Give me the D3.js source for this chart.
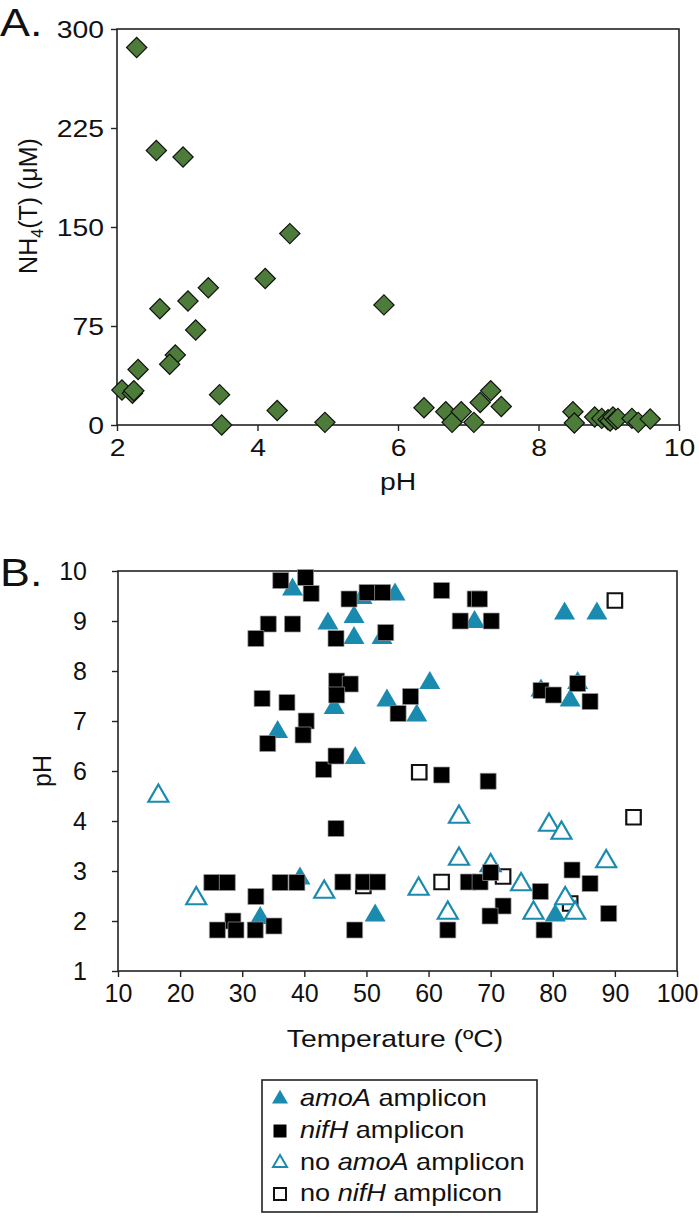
<!DOCTYPE html>
<html><head><meta charset="utf-8">
<script src="https://cdn.jsdelivr.net/npm/d3@7"></script>
<style>body{margin:0;background:#fff} text{font-family:"Liberation Sans",Arial,sans-serif;fill:#111}</style>
</head><body>
<svg id="c" width="699" height="1219"></svg>
<script>
// ---------- Panel A data ----------
const phA  = [2.28,2.56,2.94,4.46,4.11,3.30,3.01,2.61,3.12,2.83,2.75,2.30,2.07,2.22,2.24,3.46,3.49,4.28,4.96,5.80,6.37,6.68,6.77,6.90,7.08,7.17,7.32,7.47,8.49,8.51,8.80,8.90,8.99,9.02,9.06,9.10,9.13,9.33,9.42,9.59];
const nh4A = [286,208,203,145,111,104,94,88,72,53,46,42,26.5,24,26,23,0,11,2,91,13,10,2,10,2,17,26,14,10,1.5,6,5,4,3,6,4,5,5,2,4.5];
const ticksAx = [2,4,6,8,10];
const ticksAy = [0,75,150,225,300];

// ---------- Panel B data ----------
// nifH amplicon (filled squares)
const nifT  = [36.2,40.2,41.1,34.2,38.1,32.2,33.2,37.2,40.3,39.8,34.1,43.1,45.1,45.1,47.2,50.1,52.6,62.1,67.5,68.2,65.1,70.1,45.1,53.1,45.2,47.4,45.2,57.1,55.1,78.1,80.1,84.0,86.0,62.1,69.6,25.1,27.6,32.2,36.1,38.8,28.5,26.0,29.0,32.1,35.1,46.2,49.5,51.8,66.4,68.3,70.0,78.0,83.1,86.0,72.0,69.9,48.1,63.1,78.6,89.0];
const nifPH = [9.81,9.87,9.55,8.94,8.94,8.65,7.45,7.37,7.00,6.72,6.55,6.03,6.30,3.85,9.44,9.57,9.57,9.61,9.44,9.44,9.00,9.00,8.65,8.77,7.80,7.74,7.52,7.49,7.15,7.61,7.52,7.75,7.39,5.84,5.59,2.77,2.77,2.49,2.77,2.77,2.00,1.82,1.82,1.82,1.90,2.78,2.78,2.78,2.78,2.78,2.97,2.59,3.02,2.75,2.30,2.10,1.82,1.82,1.82,2.15];
// amoA amplicon (filled triangles)
const amoT  = [38.1,43.8,48.0,48.0,52.5,49.3,54.6,67.4,60.2,53.3,44.8,58.1,48.2,35.7,81.9,87.1,78.1,84.0,82.8,39.3,32.9,51.4,80.4];
const amoPH = [9.67,8.99,9.12,8.70,8.70,9.50,9.57,9.02,7.80,7.45,7.30,7.15,6.30,6.82,9.19,9.19,7.65,7.80,7.45,2.89,2.10,2.15,2.15];
// no amoA amplicon (open triangles)
const noAmoT  = [16.5,22.6,43.2,58.4,64.9,64.9,70.0,74.9,63.1,76.9,79.4,81.4,88.6,82.0,83.6];
const noAmoPH = [5.08,2.49,2.62,2.68,4.24,3.28,3.15,2.77,2.20,2.20,3.96,3.80,3.23,2.49,2.20];
// no nifH amplicon (open squares)
const noNifT  = [58.5,90.0,93.0,62.1,72.0,49.5,82.8];
const noNifPH = [5.95,9.41,4.15,2.78,2.89,2.70,2.35];

const ticksBx = [10,20,30,40,50,60,70,80,90,100];
const ticksBy = [10,9,8,7,6,4,3,2,1];
const legendLabels = [["amoA"," amplicon",""],["nifH"," amplicon",""],["no ","amoA"," amplicon"],["no ","nifH"," amplicon"]];

const SX = 1.18;
const BLUE = "#1a8baf", GREEN = "#4d7c3a";
const svg = d3.select("#c");

function stext(x, y, anchor, size, parts, sx){
  const t = svg.append("text").attr("transform", `translate(${x},${y}) scale(${sx||SX},1)`)
    .attr("text-anchor", anchor).style("font-size", size+"px");
  parts.forEach(p => { const s = t.append("tspan").text(p.t); if (p.i) s.style("font-style","italic"); });
  return t;
}
function frame(x0,x1,y0,y1){
  svg.append("rect").attr("x",x0).attr("y",y0).attr("width",x1-x0).attr("height",y1-y0)
    .attr("fill","none").attr("stroke","#222").attr("stroke-width",1.6);
}
function styleAxis(g, size){
  g.select(".domain").remove();
  g.selectAll(".tick line").attr("stroke","#222").attr("stroke-width",1.4);
  g.selectAll(".tick text").style("font-size", size+"px").attr("fill","#111")
    .style("font-family","'Liberation Sans',Arial,sans-serif");
}

// ---------- Panel A ----------
const xA = d3.scaleLinear().domain([2,10]).range([117,679]);
const yA = d3.scaleLinear().domain([0,300]).range([425,29]);
frame(117,679,29,425);
const gAy = svg.append("g").attr("transform","translate(117,0)")
  .call(d3.axisLeft(yA).tickValues(ticksAy).tickSize(6).tickPadding(9));
styleAxis(gAy, 24);
gAy.selectAll(".tick text").attr("transform",`scale(${SX},1)`).attr("x",-13/SX).attr("dy","0.35em");
const gAx = svg.append("g").attr("transform","translate(0,425)")
  .call(d3.axisBottom(xA).tickValues(ticksAx).tickSize(6).tickPadding(8));
styleAxis(gAx, 24);
gAx.selectAll(".tick text").attr("transform",`scale(${SX},1)`);

svg.append("g").selectAll("path").data(phA.map((p,i)=>[p,nh4A[i]])).join("path")
  .attr("d", d3.symbol(d3.symbolSquare, 205))
  .attr("transform", d => `translate(${xA(d[0])},${yA(d[1])}) rotate(45)`)
  .attr("fill", GREEN).attr("stroke","#111").attr("stroke-width",1.2);

stext(0,36,"start",38,[{t:"A."}]);
stext(398,490,"middle",24,[{t:"pH"}]);
const nl = svg.append("text").attr("transform","translate(37,206) rotate(-90)")
  .attr("text-anchor","middle").style("font-size","25px");
nl.append("tspan").text("NH");
nl.append("tspan").text("4").attr("dy","6").style("font-size","16px");
nl.append("tspan").text("(T) (\u03BCM)").attr("dy","-6");

// ---------- Panel B ----------
const xB = d3.scaleLinear().domain([10,100]).range([118,677]);
const yB = d3.scaleLinear().domain([1,4,6,10]).range([971,821,771,571]);
frame(118,677,571,971);
const gBy = svg.append("g").attr("transform","translate(118,0)")
  .call(d3.axisLeft(yB).tickValues(ticksBy).tickSize(6).tickPadding(9));
styleAxis(gBy, 25);
gBy.selectAll(".tick text").attr("x",-31).attr("dy","0.35em");
const gBx = svg.append("g").attr("transform","translate(0,971)")
  .call(d3.axisBottom(xB).tickValues(ticksBx).tickSize(6).tickPadding(7));
styleAxis(gBx, 25);

const sqSym = d3.symbol(d3.symbolSquare, 16*16);
const osqSym = d3.symbol(d3.symbolSquare, 14.5*14.5);
const triSym = d3.symbol(d3.symbolTriangle, Math.sqrt(3)/4*21*21);
const otriSym = d3.symbol(d3.symbolTriangle, Math.sqrt(3)/4*20*20);

svg.append("g").selectAll("path").data(noNifT.map((t,i)=>[t,noNifPH[i]])).join("path")
  .attr("d", osqSym).attr("transform", d=>`translate(${xB(d[0])},${yB(d[1])})`)
  .attr("fill","#fff").attr("stroke","#111").attr("stroke-width",2.2);
svg.append("g").selectAll("path").data(noAmoT.map((t,i)=>[t,noAmoPH[i]])).join("path")
  .attr("d", otriSym).attr("transform", d=>`translate(${xB(d[0])},${yB(d[1])+2})`)
  .attr("fill","#fff").attr("stroke",BLUE).attr("stroke-width",2.2);
svg.append("g").selectAll("path").data(amoT.map((t,i)=>[t,amoPH[i]])).join("path")
  .attr("d", triSym).attr("transform", d=>`translate(${xB(d[0])},${yB(d[1])+2})`)
  .attr("fill",BLUE);
svg.append("g").selectAll("path").data(nifT.map((t,i)=>[t,nifPH[i]])).join("path")
  .attr("d", sqSym).attr("transform", d=>`translate(${xB(d[0])},${yB(d[1])})`)
  .attr("fill","#000").attr("stroke","#999").attr("stroke-width",0.7);

stext(0,586,"start",38,[{t:"B."}]);
stext(395,1047,"middle",24,[{t:"Temperature (\u00BAC)"}]);
svg.append("text").attr("transform","translate(51,771) rotate(-90)")
  .attr("text-anchor","middle").style("font-size","25px").text("pH");

// ---------- Legend ----------
const lx = 262, ly = 1080, lw = 275, lh = 132;
svg.append("rect").attr("x",lx).attr("y",ly).attr("width",lw).attr("height",lh)
  .attr("fill","#fff").attr("stroke","#222").attr("stroke-width",1.6);
const rowY = [1098,1130,1162,1193];
const legSyms = [
  {d:d3.symbol(d3.symbolTriangle, Math.sqrt(3)/4*16*16)(), fill:BLUE, stroke:"none", sw:0},
  {d:d3.symbol(d3.symbolSquare, 13*13)(), fill:"#000", stroke:"none", sw:0},
  {d:d3.symbol(d3.symbolTriangle, Math.sqrt(3)/4*14*14)(), fill:"#fff", stroke:BLUE, sw:2},
  {d:d3.symbol(d3.symbolSquare, 12*12)(), fill:"#fff", stroke:"#111", sw:2}
];
legSyms.forEach((s,i)=>{
  svg.append("path").attr("d",s.d).attr("transform",`translate(280,${rowY[i]+1})`)
    .attr("fill",s.fill).attr("stroke",s.stroke).attr("stroke-width",s.sw);
});
legendLabels.forEach((lab,i)=>{
  const parts = i<2 ? [{t:lab[0],i:true},{t:lab[1]}] : [{t:lab[0]},{t:lab[1],i:true},{t:lab[2]}];
  stext(300,rowY[i]+8,"start",23,parts);
});
</script>
</body></html>
